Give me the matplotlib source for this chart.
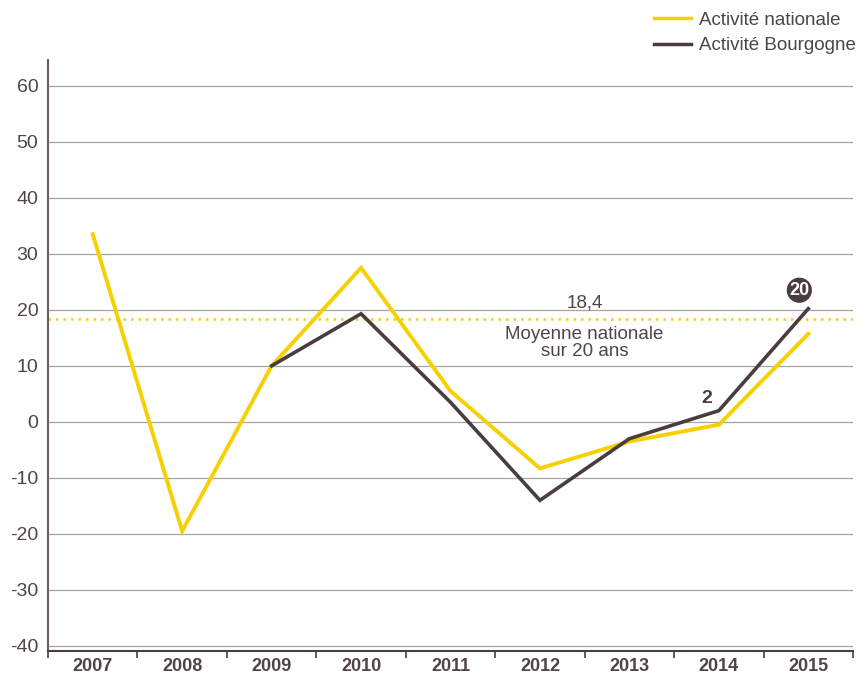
import matplotlib
matplotlib.use("Agg")
import matplotlib.pyplot as plt
from matplotlib.lines import Line2D

plt.rcParams['font.family'] = ['Liberation Sans', 'DejaVu Sans']

years = ["2007", "2008", "2009", "2010", "2011", "2012", "2013", "2014", "2015"]
nationale = [33.5, -19.5, 10.0, 27.5, 5.5, -8.3, -3.5, -0.5, 15.7]
bourgogne = [None, None, 10.0, 19.3, 3.5, -14.0, -3.0, 2.0, 20.2]
moyenne = 18.4
yticks = [-40, -30, -20, -10, 0, 10, 20, 30, 40, 50, 60]

YELLOW = "#F7D000"
DARK = "#4a3d3d"
GRID = "#aaa1a1"
TXT = "#4f4545"

fig = plt.figure(figsize=(8.59, 6.74), dpi=100)
ax = fig.add_axes([48/859, 23/674, (853-48)/859, (651-60)/674])

x = list(range(len(years)))
ax.set_xlim(-0.5, len(years) - 0.5)
ax.set_ylim(-40.9, 64.6)

for t in yticks:
    ax.axhline(t, color=GRID, lw=0.9, zorder=1)

ax.axhline(moyenne, color=YELLOW, lw=1.8, ls=(0, (1, 2)), zorder=2)

ax.plot(x, nationale, color=YELLOW, lw=2.8, zorder=3, solid_joinstyle='miter')
bx = [i for i, v in enumerate(bourgogne) if v is not None]
by = [v for v in bourgogne if v is not None]
ax.plot(bx, by, color=DARK, lw=2.6, zorder=4, solid_joinstyle='miter')

ax.set_yticks(yticks)
ax.set_yticklabels([str(t) for t in yticks], color=TXT, fontsize=14)
ax.tick_params(axis='y', length=0, pad=7)

ax.set_xticks(x)
ax.set_xticklabels(years, fontweight='bold', color=TXT, fontsize=13)
ax.set_xticks([i - 0.5 for i in range(len(years) + 1)], minor=True)
ax.tick_params(axis='x', which='major', length=0, pad=5)
ax.tick_params(axis='x', which='minor', length=5, width=1.2, color=DARK, direction='out')

for s in ['top', 'right']:
    ax.spines[s].set_visible(False)
ax.spines['left'].set_color("#6b6060")
ax.spines['left'].set_linewidth(1.5)
ax.spines['bottom'].set_color(DARK)
ax.spines['bottom'].set_linewidth(1.5)

# annotations
ax.text(5.5, moyenne + 1.3, "18,4", ha='center', va='bottom', color=TXT, fontsize=13.5)
ax.text(5.5, moyenne - 1.2, "Moyenne nationale\nsur 20 ans", ha='center', va='top',
        color=TXT, fontsize=13.5, linespacing=1.05)
ax.text(7 - 0.13, bourgogne[7] + 0.7, "2", ha='center', va='bottom', color=DARK,
        fontsize=14, fontweight='bold')
ax.text(7.9, bourgogne[8] + 3.3, "20", ha='center', va='center', color='white',
        fontsize=13, fontweight='bold',
        bbox=dict(boxstyle='circle,pad=0.1', fc=DARK, ec=DARK))

# legend
handles = [Line2D([], [], color=YELLOW, lw=2.5), Line2D([], [], color=DARK, lw=2.5)]
fig.legend(handles, ["Activité nationale", "Activité Bourgogne"],
           loc='upper right', bbox_to_anchor=(1.016, 1.008), frameon=False,
           fontsize=13.5, handlelength=2.0, handletextpad=0.4, labelspacing=0.45,
           labelcolor=TXT)

fig.savefig("out.png", dpi=100)
